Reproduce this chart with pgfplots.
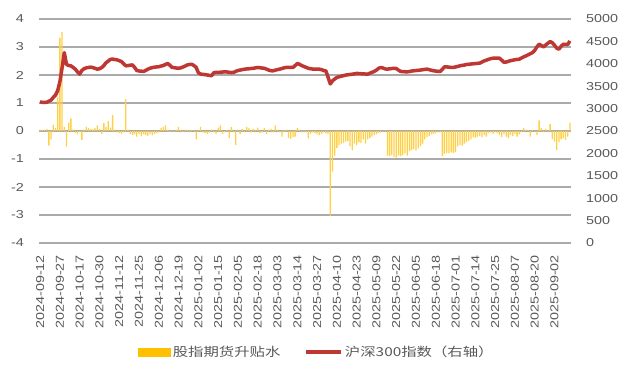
\documentclass[border=0pt]{standalone}
\usepackage{pgfplots}
\pgfplotsset{compat=1.18}
\usepackage{pgfplotstable}
\usepackage{fontspec}
\setmainfont{Liberation Sans}[FakeStretch=1.25]
\newfontfamily\cjk{Noto Sans CJK SC}[FakeStretch=1.25]
\definecolor{gold}{RGB}{255,192,0}
\definecolor{barcol}{RGB}{255,208,70}
\definecolor{lred}{RGB}{190,55,50}
\definecolor{gridgray}{RGB}{170,170,170}
\definecolor{txtgray}{RGB}{89,89,89}
\pgfplotstableread{
x b l
0 0.05 3150
1 0.03 3140
2 0.02 3138
3 0.08 3142
4 -0.52 3165
5 -0.3 3190
6 0.22 3250
7 0.1 3300
8 1.2 3400
9 3.33 3600
10 3.53 3910
11 0.15 4250
12 -0.56 3990
13 0.3 3960
14 0.45 3955
15 0.05 3920
16 -0.08 3880
17 -0.12 3820
18 -0.05 3770
19 -0.32 3850
20 0.05 3890
21 0.15 3910
22 0.1 3918
23 0.08 3925
24 0.06 3915
25 0.1 3900
26 0.2 3880
27 0.08 3890
28 -0.1 3915
29 0.28 3960
30 0.15 4025
31 0.35 4060
32 0.12 4100
33 0.57 4105
34 0.05 4095
35 -0.05 4088
36 -0.08 4070
37 -0.1 4050
38 -0.05 4000
39 1.14 3955
40 0.05 3960
41 -0.1 3970
42 -0.15 3975
43 -0.12 3920
44 -0.2 3850
45 -0.1 3840
46 -0.18 3835
47 -0.12 3829
48 -0.15 3850
49 -0.18 3880
50 -0.12 3900
51 -0.15 3915
52 -0.1 3925
53 -0.08 3930
54 -0.05 3935
55 0.1 3950
56 0.15 3960
57 0.2 3985
58 0.05 4007
59 -0.03 3970
60 0.02 3920
61 -0.02 3915
62 0.05 3905
63 0.15 3900
64 0.03 3910
65 -0.03 3928
66 0.05 3950
67 0.02 3975
68 -0.05 3985
69 0.04 3990
70 0.02 3960
71 -0.3 3918
72 0.02 3800
73 0.15 3770
74 -0.05 3765
75 -0.08 3758
76 -0.1 3750
77 -0.06 3742
78 0.05 3733
79 -0.05 3800
80 -0.1 3808
81 0.12 3807
82 0.2 3812
83 -0.1 3816
84 -0.05 3820
85 0.03 3818
86 -0.25 3810
87 0.15 3805
88 -0.05 3808
89 -0.5 3830
90 0.05 3850
91 -0.1 3860
92 0.08 3870
93 -0.05 3880
94 0.15 3885
95 0.1 3890
96 -0.05 3895
97 0.08 3900
98 0.05 3910
99 0.12 3918
100 -0.08 3912
101 -0.05 3905
102 0.1 3900
103 -0.1 3880
104 0.05 3860
105 0.08 3845
106 -0.05 3844
107 0.2 3858
108 0.05 3870
109 -0.05 3881
110 -0.2 3895
111 -0.05 3910
112 0.05 3918
113 -0.25 3920
114 -0.28 3918
115 -0.22 3918
116 -0.2 3960
117 0.1 4005
118 0.05 3990
119 -0.05 3960
120 0.02 3940
121 -0.05 3920
122 -0.26 3900
123 -0.1 3890
124 -0.05 3882
125 -0.08 3880
126 -0.12 3883
127 -0.15 3880
128 -0.1 3870
129 -0.05 3850
130 -0.08 3840
131 -0.1 3700
132 -3.02 3550
133 -1.45 3620
134 -0.88 3660
135 -0.6 3695
136 -0.5 3711
137 -0.45 3722
138 -0.42 3735
139 -0.38 3748
140 -0.35 3755
141 -0.55 3762
142 -0.68 3768
143 -0.45 3775
144 -0.5 3785
145 -0.4 3782
146 -0.42 3778
147 -0.3 3775
148 -0.45 3772
149 -0.3 3770
150 -0.25 3790
151 -0.2 3810
152 -0.15 3829
153 -0.12 3860
154 -0.08 3900
155 -0.05 3918
156 -0.02 3905
157 0.02 3885
158 -0.88 3881
159 -0.9 3888
160 -0.85 3895
161 -0.92 3900
162 -0.95 3895
163 -0.88 3860
164 -0.9 3830
165 -0.85 3825
166 -0.8 3822
167 -0.88 3820
168 -0.72 3828
169 -0.68 3838
170 -0.65 3844
171 -0.7 3850
172 -0.62 3855
173 -0.55 3860
174 -0.45 3868
175 -0.3 3875
176 -0.22 3881
177 -0.18 3870
178 -0.12 3855
179 -0.1 3844
180 -0.08 3838
181 -0.05 3832
182 -0.05 3829
183 -0.9 3880
184 -0.82 3933
185 -0.78 3930
186 -0.8 3925
187 -0.76 3920
188 -0.78 3918
189 -0.75 3930
190 -0.55 3942
191 -0.5 3955
192 -0.52 3965
193 -0.45 3972
194 -0.4 3985
195 -0.35 3990
196 -0.3 3995
197 -0.22 4000
198 -0.25 4005
199 -0.2 4010
200 -0.18 4014
201 -0.22 4040
202 -0.15 4065
203 -0.2 4081
204 -0.08 4100
205 -0.05 4115
206 -0.1 4125
207 -0.05 4128
208 -0.08 4126
209 -0.15 4125
210 -0.22 4080
211 -0.12 4035
212 -0.2 4040
213 -0.25 4055
214 -0.15 4070
215 -0.18 4080
216 -0.1 4090
217 -0.2 4098
218 -0.12 4103
219 -0.05 4130
220 0.1 4155
221 0.05 4177
222 0.02 4200
223 -0.2 4225
224 0.03 4250
225 -0.02 4300
226 -0.15 4380
227 0.38 4437
228 0.1 4410
229 -0.05 4377
230 0.08 4420
231 -0.05 4460
232 0.25 4496
233 -0.3 4470
234 -0.38 4415
235 -0.68 4350
236 -0.4 4326
237 -0.3 4390
238 -0.25 4437
239 -0.32 4432
240 -0.2 4430
241 0.3 4510
}\datatable
\begin{document}
\begin{tikzpicture}
\begin{axis}[
  scale only axis, width=532pt, height=224pt,
  xmin=-0.5, xmax=241.5, ymin=-4, ymax=4,
  ytick={-4,-3,...,4},
  xtick={0,9,...,234},
  xticklabels={2024-09-12,2024-09-27,2024-10-17,2024-10-30,2024-11-12,2024-11-25,2024-12-06,2024-12-19,2025-01-02,2025-01-15,2025-02-05,2025-02-18,2025-03-03,2025-03-14,2025-03-27,2025-04-10,2025-04-23,2025-05-09,2025-05-22,2025-06-05,2025-06-18,2025-07-01,2025-07-14,2025-07-25,2025-08-07,2025-08-20,2025-09-02},
  axis line style={draw=none},
  major tick length=0pt,
  ymajorgrids=true,
  major grid style={draw=gridgray, line width=1.5pt},
  xticklabel style={rotate=90, anchor=east, inner sep=0pt, font=\fontsize{11.5}{13}\selectfont, text=txtgray},
  yticklabel style={anchor=east, inner sep=0pt, font=\fontsize{11.5}{13}\selectfont, text=txtgray},
  xticklabel shift=12pt,
  yticklabel shift=15pt,
  /pgf/number format/assume math mode=true,
  legend style={at={(0.5226,-0.487)}, anchor=center, draw=none, fill=none,
    legend columns=2, font=\cjk\fontsize{12.3}{14}\selectfont, text=txtgray,
    /tikz/every even column/.append style={column sep=22pt},
    inner sep=0pt},
]
\addlegendimage{legend image code/.code={\fill[gold] (0pt,-4pt) rectangle (32pt,4pt);}}
\addlegendentry{股指期货升贴水}
\addlegendimage{legend image code/.code={\draw[line width=3.5pt, lred] (0pt,0pt) -- (35pt,0pt);}}
\addlegendentry{沪深300指数（右轴）}
\addplot[ybar, bar width=1.3pt, fill=barcol, draw=none, forget plot] table[x=x, y=b] {\datatable};
\end{axis}
\begin{axis}[
  scale only axis, width=532pt, height=224pt,
  xmin=-0.5, xmax=241.5, ymin=0, ymax=5000,
  ytick={0,500,...,5000},
  axis y line*=right, axis x line=none,
  axis line style={draw=none},
  major tick length=0pt,
  yticklabel style={anchor=west, inner sep=0pt, font=\fontsize{11.5}{13}\selectfont, text=txtgray},
  yticklabel shift=15pt,
  /pgf/number format/assume math mode=true,
  /pgf/number format/1000 sep={},
]
\addplot[lred, line width=3.5pt, line join=round, mark=none] table[x=x, y=l] {\datatable};
\end{axis}
\path (-39pt,-129pt) (591pt,243pt);
\end{tikzpicture}
\end{document}
